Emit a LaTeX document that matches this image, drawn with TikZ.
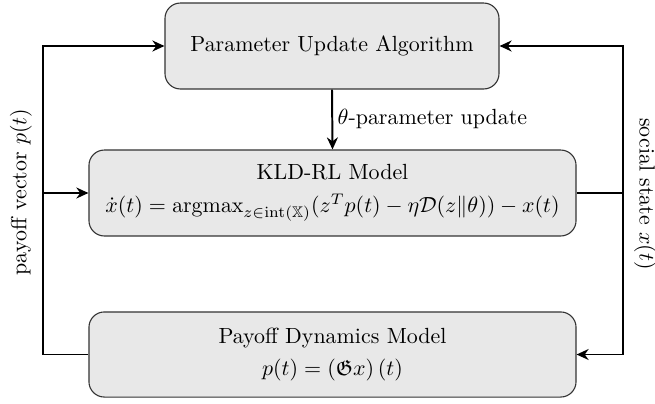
\documentclass[tikz,border=0pt]{standalone}
\usepackage{amsmath,amssymb}
\usetikzlibrary{arrows.meta}
\begin{document}
\begin{tikzpicture}[x=0.456pt,y=-0.456pt,
  box/.style={draw=black!80, fill=black!9, rounded corners=7pt, line width=0.5pt, align=center, inner sep=0pt},
  conn/.style={line width=0.9pt, -{Stealth[length=5.5pt,width=5pt]}},
  wire/.style={line width=0.9pt}]
\useasboundingbox (0,0) rectangle (655,403);
\node[box, minimum width=152.3pt, minimum height=39.2pt] (pua) at (332,46) {Parameter Update Algorithm};
\node[box, minimum width=222.1pt, minimum height=39.2pt] (kld) at (332.5,193) {KLD-RL Model\\[3pt] $\dot{x}(t) = \operatorname{argmax}_{z\in\mathrm{int}(\mathbb{X})}(z^{T}p(t) - \eta\mathcal{D}(z\|\theta)) - x(t)$};
\node[box, minimum width=222.1pt, minimum height=38.8pt] (pdm) at (332.5,354.5) {Payoff Dynamics Model\\[3pt] $p(t) = \left(\mathfrak{G}x\right)(t)$};
\coordinate (L) at (43,0);
\coordinate (R) at (623,0);
\draw[conn] (pdm.west) -- (pdm.west -| L) |- (pua.west);
\draw[conn] (kld.west -| L) -- (kld.west);
\draw[conn] (kld.east) -- (kld.east -| R) |- (pua.east);
\draw[conn] (kld.east -| R) |- (pdm.east);
\draw[conn] (pua.south) -- (kld.north) node[midway, right, inner sep=2pt] (th) {$\theta$-parameter update};
\node[rotate=90] (pl) at (21,192) {payoff vector $p(t)$};
\node[rotate=-90] (sl) at (645,194) {social state $x(t)$};
\end{tikzpicture}
\end{document}
